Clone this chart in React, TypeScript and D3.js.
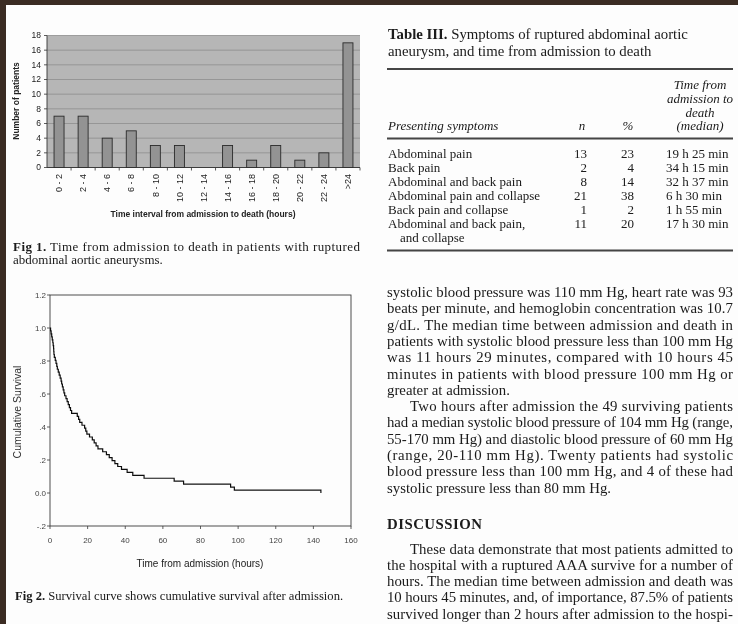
import React from 'react'
import * as d3 from 'd3'

const W = 738
const H = 624

// Fig 1: number of deaths per time interval
const intervals = ['0 - 2', '2 - 4', '4 - 6', '6 - 8', '8 - 10', '10 - 12', '12 - 14', '14 - 16', '16 - 18', '18 - 20', '20 - 22', '22 - 24', '>24']
const patients = [7, 7, 4, 5, 3, 3, 0, 3, 1, 3, 1, 2, 17]
const patientTicks = [0, 2, 4, 6, 8, 10, 12, 14, 16, 18]

// Fig 2: hour of each death (56 patients)
const deathHours = [
    0.3, 0.6, 0.9, 1.2, 1.5, 1.7, 1.9,
    2.0, 2.1, 2.3, 2.8, 3.2, 3.6, 3.9,
    4.4, 4.9, 5.4, 5.9,
    6.2, 6.6, 7.0, 7.4, 7.8,
    8.5, 9.1, 9.7,
    10.3, 10.9, 11.5,
    14.5, 15.2, 15.8,
    17.0,
    18.4, 19.0, 19.6,
    21.0,
    22.5, 23.5,
    24.5, 25.5, 28, 30, 31.5, 33, 34.5, 36, 38, 41, 44, 50, 66, 71, 96, 98, 144
]
const survivalTicks = [1.2, 1.0, 0.8, 0.6, 0.4, 0.2, 0, -0.2]
const survivalTickLabels = ['1.2', '1.0', '.8', '.6', '.4', '.2', '0.0', '-.2']
const hourTicks = [0, 20, 40, 60, 80, 100, 120, 140, 160]

// Table III
const symptoms = [
    ['Abdominal pain'],
    ['Back pain'],
    ['Abdominal and back pain'],
    ['Abdominal pain and collapse'],
    ['Back pain and collapse'],
    ['Abdominal and back pain,', 'and collapse']
]
const symptomN = [13, 2, 8, 21, 1, 11]
const symptomPct = [23, 4, 14, 38, 2, 20]
const symptomTime = ['19 h 25 min', '34 h 15 min', '32 h 37 min', '6 h 30 min', '1 h 55 min', '17 h 30 min']

// right column text: [text, justified, indented]
const bodyLines: [string, boolean, boolean][] = [
    ['systolic blood pressure was 110 mm Hg, heart rate was 93', true, false],
    ['beats per minute, and hemoglobin concentration was 10.7', true, false],
    ['g/dL. The median time between admission and death in', true, false],
    ['patients with systolic blood pressure less than 100 mm Hg', true, false],
    ['was 11 hours 29 minutes, compared with 10 hours 45', true, false],
    ['minutes in patients with blood pressure 100 mm Hg or', true, false],
    ['greater at admission.', false, false],
    ['Two hours after admission the 49 surviving patients', true, true],
    ['had a median systolic blood pressure of 104 mm Hg (range,', true, false],
    ['55-170 mm Hg) and diastolic blood pressure of 60 mm Hg', true, false],
    ['(range, 20-110 mm Hg). Twenty patients had systolic', true, false],
    ['blood pressure less than 100 mm Hg, and 4 of these had', true, false],
    ['systolic pressure less than 80 mm Hg.', false, false]
]
const discussionLines: [string, boolean, boolean][] = [
    ['These data demonstrate that most patients admitted to', true, true],
    ['the hospital with a ruptured AAA survive for a number of', true, false],
    ['hours. The median time between admission and death was', true, false],
    ['10 hours 45 minutes, and, of importance, 87.5% of patients', true, false],
    ['survived longer than 2 hours after admission to the hospi-', true, false]
]

const SANS = '"Liberation Sans", Arial, sans-serif'
const SERIF = '"Liberation Serif", "Times New Roman", serif'

function BarChart() {
    const x = d3.scaleBand<string>().domain(intervals).range([47, 360]).paddingInner(0.585).paddingOuter(0.2925)
    const y = d3.scaleLinear().domain([0, 18]).range([167.5, 35.5])
    const step = x.step()
    return (
        <g fontFamily={SANS}>
            <rect x={47} y={y(18)} width={313} height={y(0) - y(18)} fill="#b6b6b6" />
            {patientTicks.map(t => (
                <g key={t}>
                    <line x1={47} x2={360} y1={y(t)} y2={y(t)} stroke="#8e8e8e" strokeWidth={0.8} />
                    <line x1={44} x2={47} y1={y(t)} y2={y(t)} stroke="#333" strokeWidth={0.8} />
                    <text x={41} y={y(t)} dy="0.35em" textAnchor="end" fontSize={8.5} fill="#222">{t}</text>
                </g>
            ))}
            <line x1={47} x2={47} y1={y(18)} y2={y(0)} stroke="#333" strokeWidth={0.9} />
            <line x1={47} x2={360} y1={y(0)} y2={y(0)} stroke="#333" strokeWidth={0.9} />
            {intervals.map((c, i) => (
                <line key={c} x1={47 + step * (i + 1)} x2={47 + step * (i + 1)} y1={y(0)} y2={y(0) + 3} stroke="#333" strokeWidth={0.8} />
            ))}
            {patients.map((v, i) => v > 0 && (
                <rect key={i} x={x(intervals[i])} y={y(v)} width={x.bandwidth()} height={y(0) - y(v)}
                    fill="#939393" stroke="#2a2a2a" strokeWidth={0.9} />
            ))}
            {intervals.map(c => (
                <text key={c} transform={`translate(${(x(c) as number) + x.bandwidth() / 2},174) rotate(-90)`}
                    textAnchor="end" dy="0.35em" fontSize={9} fill="#222">{c}</text>
            ))}
            <text transform="translate(19,101) rotate(-90)" textAnchor="middle" fontSize={8.5} fontWeight="bold" fill="#222">Number of patients</text>
            <text x={203} y={217} textAnchor="middle" fontSize={8.5} fontWeight="bold" fill="#222">Time interval from admission to death (hours)</text>
        </g>
    )
}

function SurvivalChart() {
    const x = d3.scaleLinear().domain([0, 160]).range([50, 351])
    const y = d3.scaleLinear().domain([-0.2, 1.2]).range([526, 295])
    const n = deathHours.length
    const points: [number, number][] = [[0, 1], ...deathHours.map((t, i) => [t, (n - i - 1) / n] as [number, number])]
    const line = d3.line<[number, number]>().x(d => x(d[0])).y(d => y(d[1])).curve(d3.curveStepAfter)
    return (
        <g fontFamily={SANS}>
            <rect x={50} y={295} width={301} height={231} fill="none" stroke="#3a3a3a" strokeWidth={0.9} />
            {survivalTicks.map((t, i) => (
                <g key={t}>
                    <line x1={47} x2={50} y1={y(t)} y2={y(t)} stroke="#3a3a3a" strokeWidth={0.8} />
                    <text x={46} y={y(t)} dy="0.35em" textAnchor="end" fontSize={8} fill="#444">{survivalTickLabels[i]}</text>
                </g>
            ))}
            {hourTicks.map(t => (
                <g key={t}>
                    <line x1={x(t)} x2={x(t)} y1={526} y2={529} stroke="#3a3a3a" strokeWidth={0.8} />
                    <text x={x(t)} y={540} dy="0.35em" textAnchor="middle" fontSize={8} fill="#444">{t}</text>
                </g>
            ))}
            <path d={line(points) || ''} fill="none" stroke="#111" strokeWidth={1.2} />
            <text transform="translate(21,412) rotate(-90)" textAnchor="middle" fontSize={10.5} fill="#333">Cumulative Survival</text>
            <text x={200} y={567} textAnchor="middle" fontSize={10} fill="#222">Time from admission (hours)</text>
        </g>
    )
}

function Table() {
    const rowY = [157.5, 171.5, 185.5, 199.5, 213.5, 227.5]
    return (
        <g fontFamily={SERIF} fill="#1a1a1a">
            <text x={388} y={39} fontSize={14.8}><tspan fontWeight="bold">Table III.</tspan> Symptoms of ruptured abdominal aortic</text>
            <text x={388} y={56} fontSize={14.8}>aneurysm, and time from admission to death</text>
            <line x1={387} x2={733} y1={69} y2={69} stroke="#444" strokeWidth={1.8} />
            <g fontStyle="italic" fontSize={13}>
                <text x={700} y={89} textAnchor="middle">Time from</text>
                <text x={700} y={103} textAnchor="middle">admission to</text>
                <text x={700} y={116.5} textAnchor="middle">death</text>
                <text x={700} y={130} textAnchor="middle">(median)</text>
                <text x={388} y={130}>Presenting symptoms</text>
                <text x={582} y={130} textAnchor="middle">n</text>
                <text x={628} y={130} textAnchor="middle">%</text>
            </g>
            <line x1={387} x2={733} y1={138.5} y2={138.5} stroke="#444" strokeWidth={1.8} />
            <g fontSize={13}>
                {symptoms.map((s, i) => (
                    <g key={i}>
                        <text x={388} y={rowY[i]}>{s[0]}</text>
                        {s[1] && <text x={400} y={rowY[i] + 14}>{s[1]}</text>}
                        <text x={587} y={rowY[i]} textAnchor="end">{symptomN[i]}</text>
                        <text x={634} y={rowY[i]} textAnchor="end">{symptomPct[i]}</text>
                        <text x={666} y={rowY[i]}>{symptomTime[i]}</text>
                    </g>
                ))}
            </g>
            <line x1={387} x2={733} y1={250.5} y2={250.5} stroke="#444" strokeWidth={1.8} />
        </g>
    )
}

function TextBlock({ lines, top }: { lines: [string, boolean, boolean][], top: number }) {
    return (
        <g>
            {lines.map(([t, just, indent], i) => {
                const x0 = indent ? 410 : 387
                return (
                    <text key={i} x={x0} y={top + i * 16.3} fontSize={14.8}
                        {...(just ? { textLength: 733 - x0, lengthAdjust: 'spacing' } : {})}>{t}</text>
                )
            })}
        </g>
    )
}

export default function App() {
    return (
        <svg width={W} height={H} style={{ position: 'absolute', left: 0, top: 0, background: '#fdfdfd' }}>
            <defs>
                <filter id="scan">
                    <feGaussianBlur stdDeviation={0.35} />
                </filter>
            </defs>
            <rect x={0} y={0} width={W} height={H} fill="#fdfdfd" />
            <g filter="url(#scan)">
                <BarChart />
                <g fontFamily={SERIF} fill="#1a1a1a" fontSize={13}>
                    <text x={13} y={250.5} textLength={347} lengthAdjust="spacing"><tspan fontWeight="bold">Fig 1.</tspan> Time from admission to death in patients with ruptured</text>
                    <text x={13} y={264}>abdominal aortic aneurysms.</text>
                </g>
                <SurvivalChart />
                <text x={15} y={600} fontFamily={SERIF} fontSize={12.6} fill="#1a1a1a"><tspan fontWeight="bold">Fig 2.</tspan> Survival curve shows cumulative survival after admission.</text>
                <Table />
                <g fontFamily={SERIF} fill="#1a1a1a">
                    <TextBlock lines={bodyLines} top={297} />
                    <text x={387} y={529} fontSize={14.8} fontWeight="bold" letterSpacing={0.5}>DISCUSSION</text>
                    <TextBlock lines={discussionLines} top={553.5} />
                </g>
            </g>
            <rect x={0} y={0} width={W} height={5} fill="#3b2c23" />
            <rect x={0} y={0} width={6} height={H} fill="#3b2c23" />
        </svg>
    )
}
